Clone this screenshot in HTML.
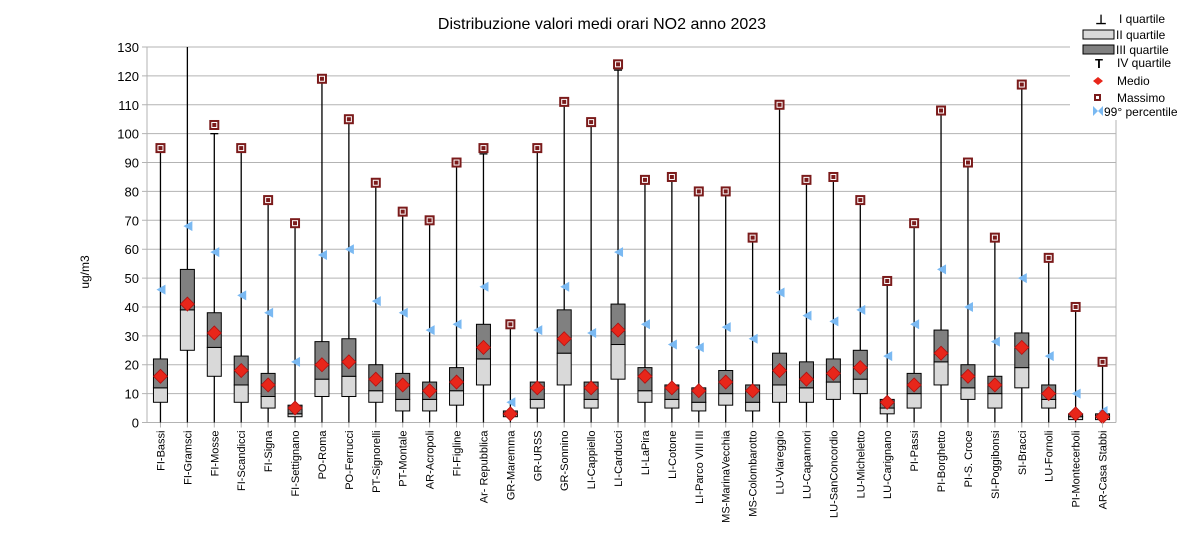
<!DOCTYPE html>
<html><head><meta charset="utf-8"><style>
body{margin:0;background:#fff;}
svg{display:block;font-family:"Liberation Sans",sans-serif;}
</style></head><body>
<svg id="chart" width="1204" height="533" viewBox="0 0 1204 533" xmlns="http://www.w3.org/2000/svg">
<text x="602" y="29" font-size="16" text-anchor="middle" fill="#000">Distribuzione valori medi orari NO2 anno 2023</text>
<text transform="translate(89,272) rotate(-90)" font-size="12" text-anchor="middle">ug/m3</text>
<g id="grid"></g><g id="marks"></g><g id="xlabels"></g>
</svg>
<script>
const categories=["FI-Bassi","FI-Gramsci","FI-Mosse","FI-Scandicci","FI-Signa","FI-Settignano","PO-Roma","PO-Ferrucci","PT-Signorelli","PT-Montale","AR-Acropoli","FI-Figline","Ar- Repubblica","GR-Maremma","GR-URSS","GR-Sonnino","LI-Cappiello","LI-Carducci","LI-LaPira","LI-Cotone","LI-Parco VIII III","MS-MarinaVecchia","MS-Colombarotto","LU-Viareggio","LU-Capannori","LU-SanConcordio","LU-Micheletto","LU-Carignano","PI-Passi","PI-Borghetto","PI-S. Croce","SI-Poggibonsi","SI-Bracci","LU-Fornoli","PI-Montecerboli","AR-Casa Stabbi"];
const q1=[7,25,16,7,5,2,9,9,7,4,4,6,13,2,5,13,5,15,7,5,4,6,4,7,7,8,10,3,5,13,8,5,12,5,1,1];
const median=[12,39,26,13,9,3,15,16,11,8,8,11,22,3,8,24,8,27,11,8,7,10,7,13,12,14,15,5,10,21,12,10,19,8,2,2];
const q3=[22,53,38,23,17,6,28,29,20,17,14,19,34,4,14,39,14,41,19,13,12,18,13,24,21,22,25,8,17,32,20,16,31,13,3,3];
const whiskerTop=[94,135,100,94,76,68,118,104,82,72,69,89,93,33,94,110,103,122,83,84,79,79,63,109,83,84,76,48,68,107,89,63,116,56,39,20];
const mean=[16,41,31,18,13,5,20,21,15,13,11,14,26,3,12,29,12,32,16,12,11,14,11,18,15,17,19,7,13,24,16,13,26,10,3,2];
const maximum=[95,140,103,95,77,69,119,105,83,73,70,90,95,34,95,111,104,124,84,85,80,80,64,110,84,85,77,49,69,108,90,64,117,57,40,21];
const p99=[46,68,59,44,38,21,58,60,42,38,32,34,47,7,32,47,31,59,34,27,26,33,29,45,37,35,39,23,34,53,40,28,50,23,10,4];
const yTicks=[0,10,20,30,40,50,60,70,80,90,100,110,120,130];
const NS="http://www.w3.org/2000/svg";
const L=147,R=1116,T=47,B=422.5;
const n=categories.length;
const step=(R-L)/n;
const x=i=>L+step*(i+0.5);
const y=v=>B-(v/130)*(B-T);
function mk(tag,attrs,parent){const e=document.createElementNS(NS,tag);for(const k in attrs)e.setAttribute(k,attrs[k]);parent.appendChild(e);return e;}
const grid=document.getElementById('grid'),marks=document.getElementById('marks'),xl=document.getElementById('xlabels');
yTicks.forEach(t=>{
 const g=mk('line',{x1:L-5,x2:R,y1:y(t),y2:y(t),stroke:'#b3b3b3','stroke-width':1},grid);
 
 
 const tx=mk('text',{x:L-8,y:y(t)+5,'font-size':13,'text-anchor':'end',fill:'#000'},grid);
 tx.textContent=t;
 
 
});
const ax=mk('line',{x1:L,x2:L,y1:T,y2:B,stroke:'#b3b3b3'},grid);


const xa=mk('line',{x1:L,x2:R,y1:B,y2:B,stroke:'#b3b3b3'},grid);


const rb=mk('line',{x1:R,x2:R,y1:T+40,y2:B,stroke:'#b3b3b3'},grid);


const clipTop=y(130);
categories.forEach((c,i)=>{
 const cx=x(i),w=14;
 const g=mk('g',{},marks);
 
 
 mk('line',{x1:cx,x2:cx,y1:y(0),y2:y(q1[i]),stroke:'#000','stroke-width':1.3},g);
 mk('line',{x1:cx,x2:cx,y1:Math.max(y(whiskerTop[i]),clipTop),y2:y(q3[i]),stroke:'#000','stroke-width':1.3},g);
 if(whiskerTop[i]<=130) mk('line',{x1:cx-4,x2:cx+4,y1:y(whiskerTop[i]),y2:y(whiskerTop[i]),stroke:'#000','stroke-width':1.3},g);
 mk('rect',{x:cx-w/2,y:y(median[i]),width:w,height:y(q1[i])-y(median[i]),fill:'#d9d9d9',stroke:'#000','stroke-width':1},g);
 mk('rect',{x:cx-w/2,y:y(q3[i]),width:w,height:y(median[i])-y(q3[i]),fill:'#808080',stroke:'#000','stroke-width':1},g);
 const py=y(p99[i]);
 const tri=mk('polygon',{points:`${cx-4},${py} ${cx+5},${py-5} ${cx+5},${py+5}`,fill:'#7ab9f2'},g);
 
 
 if(maximum[i]<=130){const my=y(maximum[i]);
  const sq=mk('rect',{x:cx-5,y:my-5,width:10,height:10,fill:'#7b1b1b'},g);
  
  
  mk('rect',{x:cx-2.5,y:my-2.5,width:5,height:5,fill:'none',stroke:'#fff','stroke-width':1},g);}
 const my=y(mean[i]);
 const d=mk('polygon',{points:`${cx},${my-7} ${cx+7},${my} ${cx},${my+7} ${cx-7},${my}`,fill:'#e8261a',stroke:'#b01010','stroke-width':0.8},g);
 
 
 mk('line',{x1:cx,x2:cx,y1:B,y2:B+5,stroke:'#b3b3b3'},g);
 const t=mk('text',{transform:`translate(${cx+4},${B+8}) rotate(-90)`,'font-size':11,'text-anchor':'end',fill:'#000'},xl);
 t.textContent=c;
 
 
});
</script>
<svg style="position:absolute;left:0;top:0" width="1204" height="533">
<rect x="1070" y="6" width="134" height="114" fill="#fff"/>
<g font-size="12" fill="#000">
<text x="1101" y="24" font-size="13" font-weight="bold" text-anchor="middle">⊥</text><text x="1119" y="23">I quartile</text>
<rect x="1083" y="30" width="31" height="9" fill="#d9d9d9" stroke="#000"/><text x="1116" y="39">II quartile</text>
<rect x="1083" y="45" width="31" height="9" fill="#808080" stroke="#000"/><text x="1116" y="54">III quartile</text>
<text x="1099" y="68" font-size="13" font-weight="bold" text-anchor="middle">T</text><text x="1117" y="67">IV quartile</text>
<polygon points="1098,77 1103,81 1098,85 1093,81" fill="#e8261a"/><text x="1117" y="85">Medio</text>
<rect x="1094" y="94" width="7" height="7" fill="#7b1b1b"/><rect x="1096" y="96" width="3" height="3" fill="#fff"/><text x="1117" y="102">Massimo</text>
<polygon points="1093,106 1098,111 1093,116" fill="#7ab9f2"/><polygon points="1103,106 1098,111 1103,116" fill="#7ab9f2"/><text x="1104" y="116">99° percentile</text>
</g></svg>
</body></html>
